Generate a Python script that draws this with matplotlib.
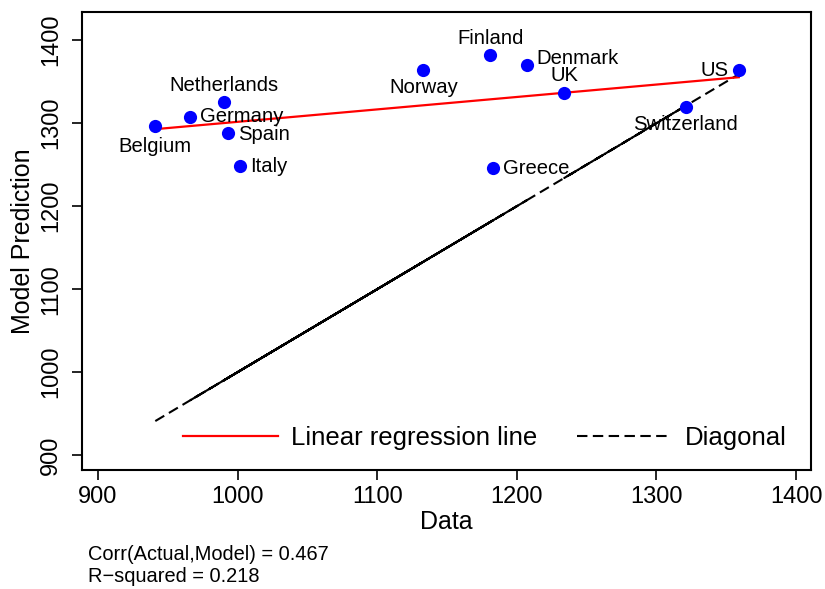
import matplotlib
matplotlib.use("Agg")
import matplotlib.pyplot as plt
import numpy as np

plt.rcParams['font.family'] = ['Liberation Sans', 'DejaVu Sans']

countries = ["Belgium", "Denmark", "Finland", "Germany", "Greece", "Italy",
             "Netherlands", "Norway", "Spain", "Switzerland", "UK", "US"]
actual = [941, 1207, 1181, 966, 1183, 1002, 990, 1133, 993, 1321, 1234, 1359]
model = [1297, 1370, 1382, 1307, 1246, 1248, 1325, 1364, 1288, 1319, 1336, 1364]

# label placement: (dx px, dy px, ha, va)
label_pos = {
    "Belgium": (0, -11, "center", "top"),
    "Denmark": (10, 7, "left", "center"),
    "Finland": (0, 7, "center", "bottom"),
    "Germany": (10, 1, "left", "center"),
    "Greece": (10, 0, "left", "center"),
    "Italy": (10, 0, "left", "center"),
    "Netherlands": (0, 7, "center", "bottom"),
    "Norway": (0, -8, "center", "top"),
    "Spain": (10, -1, "left", "center"),
    "Switzerland": (0, -8, "center", "top"),
    "UK": (0, 8, "center", "bottom"),
    "US": (-10, 0, "right", "center"),
}

x = np.array(actual, dtype=float)
y = np.array(model, dtype=float)

fig = plt.figure(figsize=(8.25, 5.89), dpi=100)
ax = fig.add_axes([0.0994, 0.202, 0.8836, 0.7776])

# diagonal drawn in data order (overlapping dashes)
ax.plot(x, x, color="black", linestyle=(0, (5, 2.6)), linewidth=1.5, label="Diagonal", zorder=2)

# regression line
b, a = np.polyfit(x, y, 1)
xs = np.array([x.min(), x.max()])
ax.plot(xs, a + b * xs, color="red", linewidth=1.6, label="Linear regression line", zorder=3)

ax.plot(x, y, 'o', color="#0000ff", markersize=9.5, markeredgewidth=0, zorder=4)

for c, xi, yi in zip(countries, x, y):
    dx, dy, ha, va = label_pos[c]
    ax.annotate(c, (xi, yi), xytext=(dx * 0.72, dy * 0.72), textcoords="offset points",
                ha=ha, va=va, fontsize=14.6, zorder=5)

ax.set_xlim(888.5, 1410.7)
ax.set_ylim(882, 1434)
ax.set_xticks([900, 1000, 1100, 1200, 1300, 1400])
ax.set_yticks([900, 1000, 1100, 1200, 1300, 1400])
ax.tick_params(axis="both", direction="out", length=7.2, width=1.2, labelsize=17)
ax.tick_params(axis="x", pad=4)
ax.tick_params(axis="y", pad=7)
for lab in ax.get_yticklabels():
    lab.set_rotation(90)
    lab.set_va("center")
for s in ax.spines.values():
    s.set_linewidth(1.5)
ax.set_xlabel("Data", fontsize=18, labelpad=2)
ax.set_ylabel("Model Prediction", fontsize=18, labelpad=4)

h, l = ax.get_legend_handles_labels()
leg = ax.legend([h[1], h[0]], [l[1], l[0]], ncol=2, frameon=False, fontsize=18.5,
                loc="center right", bbox_to_anchor=(0.967, 0.07), handlelength=3.7,
                columnspacing=1.56, handletextpad=0.5, borderpad=0, borderaxespad=0)

fig.text(88 / 825, 1 - 555 / 589, "Corr(Actual,Model) = 0.467", fontsize=14.4, va="center")
fig.text(88 / 825, 1 - 577 / 589, "R\u2212squared = 0.218", fontsize=14.4, va="center")

fig.savefig("out.png", dpi=100)
